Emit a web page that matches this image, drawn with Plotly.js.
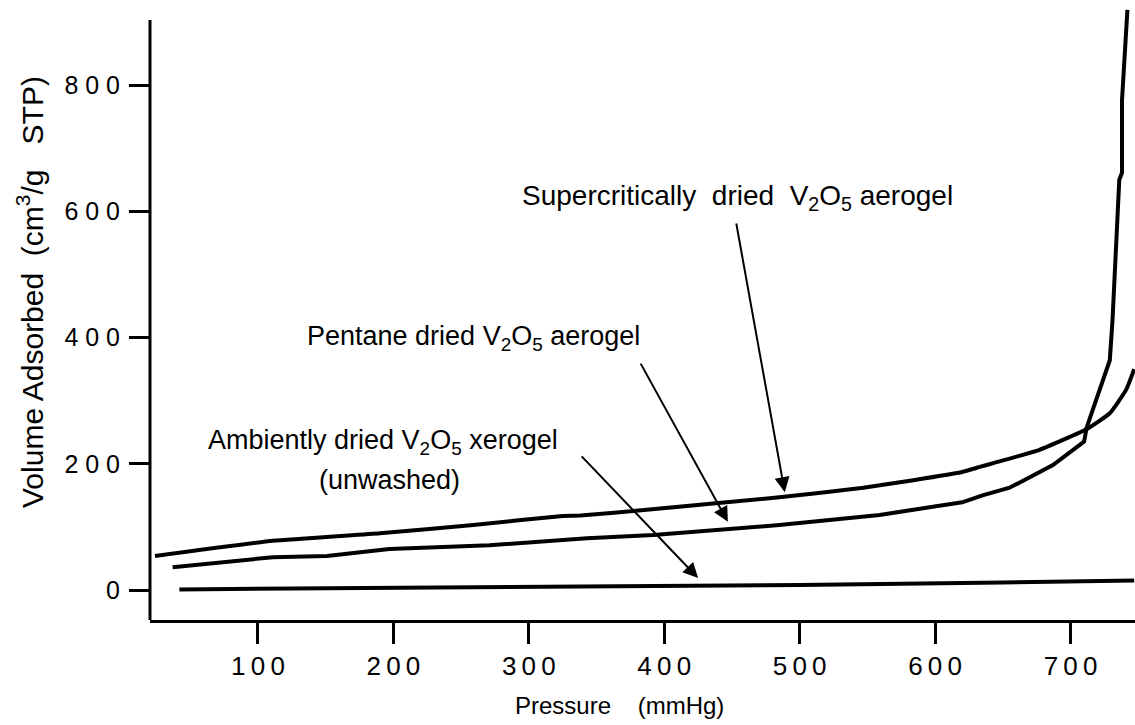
<!DOCTYPE html>
<html>
<head>
<meta charset="utf-8">
<script src="https://cdn.plot.ly/plotly-3.0.1.min.js"></script>
<style>
  html, body { margin: 0; padding: 0; background: #fff; }
  #chart { width: 1135px; height: 725px; }
</style>
</head>
<body>
<div id="chart"></div>
<script>
// ---- data ----
const superX = [24, 111, 190, 259, 323, 338, 387, 485, 547, 584, 620, 633, 643, 677, 712, 729, 741, 747];
const superY = [54, 78, 90, 103, 117, 118, 127, 147, 162, 174, 187, 195, 201, 222, 255, 280, 317, 350];

const pentX = [37, 111, 151, 197, 271, 343, 392, 485, 559, 596, 620, 635, 655, 687, 710, 712, 719, 729, 731, 735, 736, 738, 738, 742];
const pentY = [36, 52, 54, 65, 71, 82, 87, 103, 119, 132, 139, 150, 162, 198, 235, 258, 301, 364, 428, 586, 650, 661, 776, 919];

const ambX = [42, 200, 345, 500, 650, 747];
const ambY = [1, 3, 5, 8, 12, 15];

const xTickVals = [100, 200, 300, 400, 500, 600, 700];
const xTickText = ['1\u20090\u20090', '2\u20090\u20090', '3\u20090\u20090', '4\u20090\u20090', '5\u20090\u20090', '6\u20090\u20090', '7\u20090\u20090'];
const yTickVals = [0, 200, 400, 600, 800];
const yTickText = ['0', '2 0 0', '4 0 0', '6 0 0', '8 0 0'];

const xRange = [20.3, 747.6];
const yRange = [-47.5, 922];
const yAxisTop = 903;

const FONT = 'Liberation Sans, Arial, Helvetica, sans-serif';

const traces = [
  {x: superX, y: superY, mode: 'lines', line: {color: '#000', width: 4, shape: 'spline', smoothing: 0.4}, name: 'Supercritically dried', hoverinfo: 'skip'},
  {x: pentX, y: pentY, mode: 'lines', line: {color: '#000', width: 4}, name: 'Pentane dried', hoverinfo: 'skip'},
  {x: ambX, y: ambY, mode: 'lines', line: {color: '#000', width: 4}, name: 'Ambiently dried', hoverinfo: 'skip'}
];

const annFont = {family: FONT, size: 27, color: '#000'};
const arrow = {text: '', showarrow: true, arrowhead: 2, arrowsize: 1.5, arrowwidth: 2, arrowcolor: '#000',
               xref: 'x', yref: 'y', axref: 'x', ayref: 'y'};
const annotations = [
  Object.assign({x: 489, y: 155, ax: 453, ay: 583}, arrow),
  {x: 454, y: 622, xref: 'x', yref: 'y', showarrow: false,
   text: 'Supercritically  dried  V<sub>2</sub>O<sub>5</sub> aerogel', font: {family: FONT, size: 28, color: '#000'}},
  Object.assign({x: 447, y: 108, ax: 382, ay: 361}, arrow),
  {x: 259, y: 399, xref: 'x', yref: 'y', showarrow: false,
   text: 'Pentane dried V<sub>2</sub>O<sub>5</sub> aerogel', font: annFont},
  Object.assign({x: 425, y: 19, ax: 338, ay: 214}, arrow),
  {x: 192, y: 234, xref: 'x', yref: 'y', showarrow: false,
   text: 'Ambiently dried V<sub>2</sub>O<sub>5</sub> xerogel', font: annFont},
  {x: 197, y: 174, xref: 'x', yref: 'y', showarrow: false,
   text: '(unwashed)', font: annFont},
  // axis titles
  {x: 0.477, y: -0.139, xref: 'paper', yref: 'paper', showarrow: false, yanchor: 'middle',
   text: 'Pressure    (mmHg)', font: {family: FONT, size: 24, color: '#000'}},
  {x: -0.1218, y: 0.536, xref: 'paper', yref: 'paper', showarrow: false, textangle: -90,
   xanchor: 'center', yanchor: 'middle',
   text: 'Volume Adsorbed  (cm<sup>3</sup>/g   STP)', font: {family: FONT, size: 30, color: '#000'}}
];

const layout = {
  width: 1135, height: 725,
  margin: {l: 150, r: 0, t: 8, b: 105},
  paper_bgcolor: '#fff', plot_bgcolor: '#fff',
  showlegend: false,
  font: {family: FONT, color: '#000'},
  xaxis: {
    range: xRange, showgrid: false, zeroline: false,
    showline: true, linecolor: '#000', linewidth: 3,
    ticks: 'outside', ticklen: 21, tickwidth: 3, tickcolor: '#000',
    tickvals: xTickVals, ticktext: xTickText,
    tickfont: {family: FONT, size: 26, color: '#000'}
  },
  yaxis: {
    range: yRange, showgrid: false, zeroline: false, showline: false,
    ticks: 'outside', ticklen: 20, tickwidth: 3, tickcolor: '#000',
    tickvals: yTickVals, ticktext: yTickText,
    tickfont: {family: FONT, size: 25, color: '#000'},
    ticklabelstandoff: 4
  },
  shapes: [
    {type: 'line', xref: 'paper', yref: 'y', x0: 0, x1: 0, y0: yRange[0], y1: yAxisTop,
     line: {color: '#000', width: 3}}
  ],
  annotations: annotations
};

Plotly.newPlot('chart', traces, layout, {staticPlot: true, displayModeBar: false});
</script>
</body>
</html>
